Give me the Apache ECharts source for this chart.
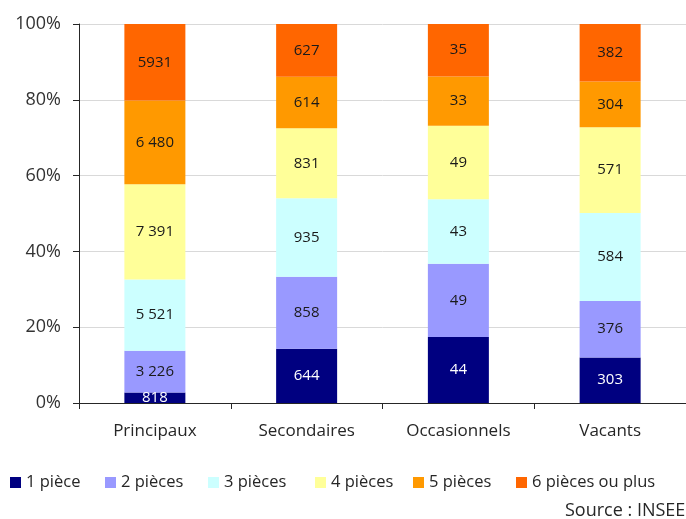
<!DOCTYPE html>
<html><head><meta charset="utf-8">
<script src="https://cdn.jsdelivr.net/npm/echarts@6/dist/echarts.min.js"></script>
<style>html,body{margin:0;padding:0;background:#fff}#c{width:686px;height:519px}</style>
</head><body><div id="c"></div>
<script>
const categories = ['Principaux', 'Secondaires', 'Occasionnels', 'Vacants'];
const seriesNames = ['1 pièce', '2 pièces', '3 pièces', '4 pièces', '5 pièces', '6 pièces ou plus'];
const p1 = [818, 644, 44, 303];
const p2 = [3226, 858, 49, 376];
const p3 = [5521, 935, 43, 584];
const p4 = [7391, 831, 49, 571];
const p5 = [6480, 614, 33, 304];
const p6 = [5931, 627, 35, 382];
const labels1 = ['818', '644', '44', '303'];
const labels2 = ['3 226', '858', '49', '376'];
const labels3 = ['5 521', '935', '43', '584'];
const labels4 = ['7 391', '831', '49', '571'];
const labels5 = ['6 480', '614', '33', '304'];
const labels6 = ['5931', '627', '35', '382'];
const yTicks = ['0%', '20%', '40%', '60%', '80%', '100%'];
const colors = ['#000080', '#9999FF', '#CCFFFF', '#FFFF99', '#FF9900', '#FF6600'];

const all = [p1, p2, p3, p4, p5, p6];
const allLabels = [labels1, labels2, labels3, labels4, labels5, labels6];
const totals = categories.map((_, i) => all.reduce((s, a) => s + a[i], 0));
const FONT = '"Open Sans", "Noto Sans", sans-serif';
const legendLeft = [10, 105, 208, 315, 413, 516];

const chart = echarts.init(document.getElementById('c'), null, {renderer: 'canvas'});
chart.setOption({
  animation: false,
  textStyle: {fontFamily: FONT},
  grid: {left: 79, right: -3, top: 24, bottom: 116, containLabel: false},
  legend: seriesNames.map((n, i) => ({
    data: [n], left: legendLeft[i], top: 474, itemWidth: 11, itemHeight: 11, itemGap: 0,
    icon: 'rect', padding: 0,
    textStyle: {fontSize: 16.5, color: '#262626', fontFamily: FONT, padding: [0, 0, 0, 0]}
  })),
  xAxis: {
    type: 'category', data: categories,
    axisLine: {lineStyle: {color: '#262626', width: 1}},
    axisTick: {show: true, length: 6, lineStyle: {color: '#262626'}},
    axisLabel: {fontSize: 17, color: '#262626', margin: 20, fontFamily: FONT}
  },
  yAxis: {
    type: 'value', min: 0, max: 100, interval: 20,
    axisLine: {show: true, lineStyle: {color: '#262626'}},
    axisTick: {show: true, length: 6, lineStyle: {color: '#262626'}},
    splitLine: {lineStyle: {color: '#d9d9d9'}},
    axisLabel: {fontSize: 18, color: '#333', margin: 18, fontFamily: FONT,
      formatter: v => yTicks[Math.round(v / 20)]}
  },
  series: all.map((arr, si) => ({
    name: seriesNames[si], type: 'bar', stack: 'total', barWidth: 61,
    itemStyle: {color: colors[si]},
    data: arr.map((v, i) => v / totals[i] * 100),
    label: {
      show: true, position: 'inside', fontSize: 15, fontFamily: FONT,
      color: si === 0 ? '#fff' : '#1a1a1a',
      formatter: p => allLabels[si][p.dataIndex]
    }
  })),
  graphic: [{
    type: 'text', left: 565, top: 502,
    style: {text: 'Source : INSEE', fontSize: 18, fill: '#262626', fontFamily: FONT}
  }]
});
</script></body></html>
